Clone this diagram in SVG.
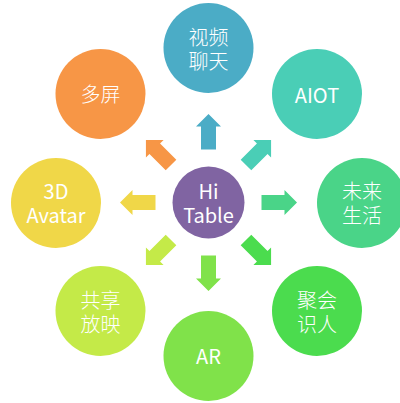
<svg xmlns="http://www.w3.org/2000/svg" width="400" height="403" viewBox="0 0 400 403">
<style>
text{font-family:"Noto Sans CJK SC","Noto Sans",sans-serif;font-size:20px;fill:#fff;text-anchor:middle;dominant-baseline:central}
.zh{font-weight:300}
</style>
<defs>
<path id="arr" d="M-7.5,-53 L7.5,-53 L7.5,-76 L12.5,-76 L0,-88.5 L-12.5,-76 L-7.5,-76 Z"/>
</defs>
<rect width="400" height="403" fill="#fff"/>
<g id="connectors" transform="translate(208.5,202.5)">
<use href="#arr" fill="#4BACC6"/>
<use href="#arr" fill="#4ACEB6" transform="rotate(45)"/>
<use href="#arr" fill="#4AD488" transform="rotate(90)"/>
<use href="#arr" fill="#4BDC4E" transform="rotate(135)"/>
<use href="#arr" fill="#80E24A" transform="rotate(180)"/>
<use href="#arr" fill="#C4EA48" transform="rotate(225)"/>
<use href="#arr" fill="#F0D748" transform="rotate(270)"/>
<use href="#arr" fill="#F79646" transform="rotate(315)"/>
</g>
<g id="hitable"><circle cx="208.5" cy="202.5" r="36" fill="#8064A2"/><text x="208.5" y="190">Hi<tspan x="208.5" dy="24">Table</tspan></text></g>
<g id="video"><circle cx="208.5" cy="48" r="45" fill="#4BACC6"/><text class="zh" x="208.5" y="36">视频<tspan x="208.5" dy="24">聊天</tspan></text></g>
<g id="aiot"><circle cx="317" cy="94" r="45" fill="#4ACEB6"/><text x="317" y="94">AIOT</text></g>
<g id="life"><circle cx="362" cy="203" r="45" fill="#4AD488"/><text class="zh" x="362" y="190">未来<tspan x="362" dy="24">生活</tspan></text></g>
<g id="meet"><circle cx="317" cy="311" r="45" fill="#4BDC4E"/><text class="zh" x="317" y="299">聚会<tspan x="317" dy="24">识人</tspan></text></g>
<g id="ar"><circle cx="208.5" cy="356" r="45" fill="#80E24A"/><text x="208.5" y="355">AR</text></g>
<g id="share"><circle cx="100.5" cy="311" r="45" fill="#C4EA48"/><text class="zh" x="100.5" y="299">共享<tspan x="100.5" dy="24">放映</tspan></text></g>
<g id="avatar"><circle cx="56" cy="203" r="45" fill="#F0D748"/><text x="56" y="190">3D<tspan x="56" dy="24">Avatar</tspan></text></g>
<g id="multiscreen"><circle cx="100.5" cy="94" r="45" fill="#F79646"/><text class="zh" x="100.5" y="93">多屏</text></g>
</svg>
